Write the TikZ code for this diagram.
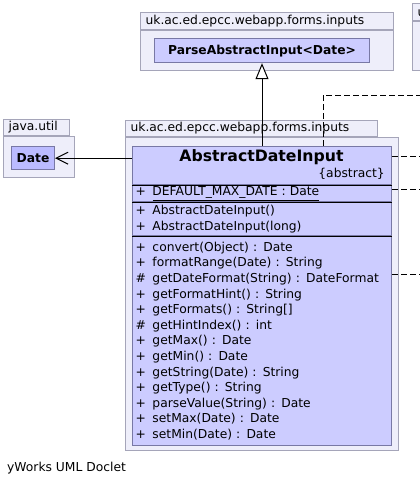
\documentclass[tikz,border=0pt]{standalone}
\usepackage{fontspec}
\setmainfont{DejaVu Sans}
\usetikzlibrary{arrows.meta}

\definecolor{pkgfill}{RGB}{238,238,250}
\definecolor{pkgline}{RGB}{165,165,185}
\definecolor{clsfill}{RGB}{204,204,255}
\definecolor{datefill}{RGB}{187,187,255}
\definecolor{clsline}{RGB}{120,120,165}

\newcommand{\vis}[1]{\makebox[17pt][l]{#1}}

\begin{document}
\begin{tikzpicture}[
      x=1pt, y=-1pt,
      font=\fontsize{12.3}{15.6}\selectfont,
      pkg/.style={
        rectangle,
        draw=pkgline,
        line width=1.2pt,
        fill=pkgfill,
        inner sep=0pt,
        anchor=north west
      },
      pkgtab/.style={
        pkg,
        inner xsep=5pt,
        align=left
      },
      cls/.style={
        rectangle,
        draw=clsline,
        line width=1pt,
        fill=clsfill,
        inner sep=0pt,
        anchor=north west
      },
      part/.style={
        cls,
        inner xsep=3pt,
        text width=253pt,
        align=left
      },
      sep/.style={line width=1pt, black},
      inherit/.style={line width=1pt, -{Triangle[open, length=16pt, width=13pt, fill=white]}},
      assoc/.style={line width=1pt, -{Straight Barb[length=12pt, width=12pt]}},
      dep/.style={line width=1pt, dash pattern=on 6pt off 3pt}
    ]
    \useasboundingbox (0,0) rectangle (420,488);
    \clip (0,0) rectangle (420,488);

    % Packages
    \node[pkgtab, text width=243pt, minimum height=17pt] (TopTab) at (140,12) {uk.ac.ed.epcc.webapp.forms.inputs};
    \node[pkg, minimum width=253pt, minimum height=40pt] (TopBody) at (TopTab.south west) {};

    \node[pkgtab, text width=56pt, minimum height=16pt] (UtilTab) at (3,119) {java.util};
    \node[pkg, minimum width=71pt, minimum height=41pt] (UtilBody) at (UtilTab.south west) {};

    \node[pkgtab, text width=242pt, minimum height=16pt] (MainTab) at (125,120) {uk.ac.ed.epcc.webapp.forms.inputs};
    \node[pkg, minimum width=273pt, minimum height=313pt] (MainBody) at (MainTab.south west) {};

    % cut off at the right
    \node[pkgtab, text width=58pt, minimum height=17pt] (RightTab) at (412,3) {uk};
    \node[pkg, minimum width=68pt, minimum height=49pt] (RightBody) at (RightTab.south west) {};

    % Small classes
    \node[cls, font=\fontsize{12.3}{15.6}\selectfont\bfseries, minimum width=215pt, minimum height=24pt,
          xshift=14pt, yshift=-8pt] (ParseCls) at (TopBody.north west) {ParseAbstractInput<Date>};
    \node[cls, fill=datefill, font=\fontsize{12.3}{15.6}\selectfont\bfseries, minimum width=43pt, minimum height=23pt,
          xshift=8pt, yshift=-10pt] (DateCls) at (UtilBody.north west) {Date};

    % Main class
    \node[cls, minimum width=259pt, minimum height=38pt] (MainTitle) at (132,146) {};
    \node[font=\fontsize{15.7}{18}\selectfont\bfseries, anchor=center] (MainName) at (261.5,157) {AbstractDateInput};
    \node[anchor=east, inner sep=0pt] (MainTag) at (385,174) {\{abstract\}};

    \node[part, minimum height=16pt] (MainAttr) at (MainTitle.south west) {\vis{+}\underline{DEFAULT\_MAX\_DATE : Date}};
    \node[part, minimum height=33pt] (MainCtor) at (MainAttr.south west) {\vis{+}AbstractDateInput()\\\vis{+}AbstractDateInput(long)};
    \node[part, minimum height=209pt] (MainMeth) at (MainCtor.south west) {%
      \vis{+}convert(Object) : Date\\
      \vis{+}formatRange(Date) : String\\
      \vis{\#}getDateFormat(String) : DateFormat\\
      \vis{+}getFormatHint() : String\\
      \vis{+}getFormats() : String[]\\
      \vis{\#}getHintIndex() : int\\
      \vis{+}getMax() : Date\\
      \vis{+}getMin() : Date\\
      \vis{+}getString(Date) : String\\
      \vis{+}getType() : String\\
      \vis{+}parseValue(String) : Date\\
      \vis{+}setMax(Date) : Date\\
      \vis{+}setMin(Date) : Date};

    % Separators
    \draw[sep] (MainAttr.north west) -- (MainAttr.north east);
    \draw[sep] (MainCtor.north west) -- (MainCtor.north east);
    \draw[sep] (MainMeth.north west) -- (MainMeth.north east);

    % Relations
    \draw[inherit] (MainTitle.north) -- (ParseCls.south);
    \draw[assoc] (MainTitle.west |- DateCls.east) -- (DateCls.east);

    % Dependencies leaving the picture
    \coordinate (OffTop) at (420,95);
    \coordinate (OffTitle) at (420,156);
    \coordinate (OffAttr) at (420,189);
    \coordinate (OffMeth) at (420,274);
    \draw[dep] ([xshift=191pt]MainTitle.north west) |- (OffTop);
    \draw[dep] (MainTitle.east |- OffTitle) -- (OffTitle);
    \draw[dep] (MainAttr.east |- OffAttr) -- (OffAttr);
    \draw[dep] (MainMeth.east |- OffMeth) -- (OffMeth);

    % Footer
    \node[anchor=west, inner sep=0pt] (Footer) at (7,468) {yWorks UML Doclet};
\end{tikzpicture}
\end{document}
